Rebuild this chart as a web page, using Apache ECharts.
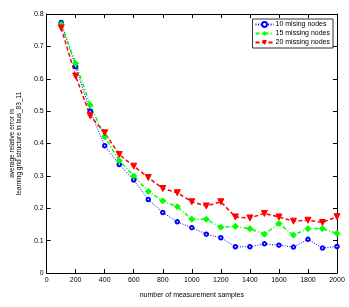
<!DOCTYPE html>
<html><head><meta charset="utf-8">
<script src="https://cdn.jsdelivr.net/npm/echarts@6/dist/echarts.min.js"></script>
<style>html,body{margin:0;padding:0;background:#fff}#c{width:349px;height:307px}</style>
</head><body><div id="c"></div>
<script>
var samples = [100,200,300,400,500,600,700,800,900,1000,1100,1200,1300,1400,1500,1600,1700,1800,1900,2000];
var missing10 = [0.774,0.637,0.500,0.393,0.335,0.287,0.227,0.187,0.158,0.140,0.120,0.109,0.081,0.081,0.090,0.086,0.080,0.104,0.077,0.082];
var missing15 = [0.768,0.647,0.518,0.421,0.347,0.300,0.252,0.223,0.205,0.166,0.166,0.141,0.144,0.137,0.120,0.153,0.117,0.137,0.137,0.122];
var missing20 = [0.757,0.608,0.486,0.433,0.366,0.330,0.295,0.261,0.248,0.220,0.207,0.220,0.173,0.170,0.184,0.173,0.160,0.163,0.156,0.174];
var seriesNames = ['10 mising nodes','15 missing nodes','20 missing nodes'];

function pairs(v){return samples.map(function(x,i){return [x,v[i]];});}
var font = 'Liberation Sans, Arial, sans-serif';
var axisCommon = {
  axisLine:{show:true,onZero:false,lineStyle:{color:'#000',width:1}},
  axisTick:{show:true,inside:true,length:4,lineStyle:{color:'#000'}},
  splitLine:{show:false}
};
var chart = echarts.init(document.getElementById('c'),null,{renderer:'canvas'});
chart.setOption({
  animation:false,
  backgroundColor:'#fff',
  grid:{left:39,right:12,top:14,bottom:34,containLabel:false},
  legend:{
    data:seriesNames, orient:'vertical', right:16, top:19,
    itemWidth:18, itemHeight:6, itemGap:2,
    padding:[2,3,2,2],
    borderColor:'#333', borderWidth:1, backgroundColor:'#fff',
    textStyle:{fontSize:7,fontFamily:font,color:'#000',padding:[0,0,0,-3]}
  },
  xAxis:[
    Object.assign({type:'value',min:0,max:2000,interval:200,position:'bottom',
      name:'number of measurement samples',nameLocation:'middle',nameGap:19,
      nameTextStyle:{fontSize:7,fontFamily:font,color:'#000'},
      axisLabel:{fontSize:7,fontFamily:font,color:'#000',margin:4,
        formatter:function(v){return String(v);}}},axisCommon),
    Object.assign({type:'value',min:0,max:2000,interval:200,position:'top',
      axisLabel:{show:false}},axisCommon)
  ],
  yAxis:[
    Object.assign({type:'value',min:0,max:0.8,interval:0.1,position:'left',
      name:'average relative error in\nlearning grid structure in bus_83_11',nameLocation:'middle',nameGap:20,
      nameTextStyle:{fontSize:6.5,fontFamily:font,color:'#000',lineHeight:7.5},
      axisLabel:{fontSize:7,fontFamily:font,color:'#000',margin:3,
        formatter:function(v){return v===0?'0':(Math.round(v*10)/10).toFixed(1);}}},axisCommon),
    Object.assign({type:'value',min:0,max:0.8,interval:0.1,position:'right',
      axisLabel:{show:false}},axisCommon)
  ],
  series:[
    {name:seriesNames[0],type:'line',data:pairs(missing10),
     symbol:'emptyCircle',symbolSize:3.5,
     itemStyle:{color:'#0000ff',borderColor:'#0000ff',borderWidth:1.5},
     lineStyle:{color:'#0000ff',width:1,type:[1,1.5]}},
    {name:seriesNames[1],type:'line',data:pairs(missing15),
     symbol:'diamond',symbolSize:6,
     itemStyle:{color:'#00ff00',borderColor:'#00ff00'},
     lineStyle:{color:'#00ff00',width:1.5,type:[4,2,1,2]}},
    {name:seriesNames[2],type:'line',data:pairs(missing20),
     symbol:'triangle',symbolRotate:180,symbolSize:6,
     itemStyle:{color:'#ff0000',borderColor:'#ff0000'},
     lineStyle:{color:'#ff0000',width:1.5,type:[4,2.5]}}
  ]
});
</script></body></html>
